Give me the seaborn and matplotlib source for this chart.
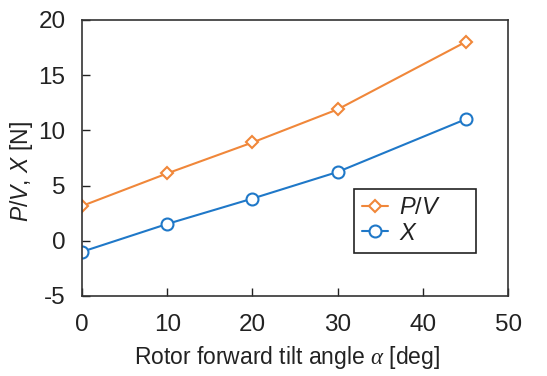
import matplotlib
matplotlib.use("Agg")
import matplotlib.pyplot as plt
from matplotlib.lines import Line2D
import seaborn as sns
import pandas as pd

# Rotor tilt angle [deg] and measured forces [N]
tilt_angle = [0, 10, 20, 30, 45]
p_over_v = [3.15, 6.1, 8.9, 11.9, 18.0]
x_force = [-1.0, 1.52, 3.82, 6.23, 11.0]
series_names = ["P/V", "X"]

sns.set_theme(style="ticks")
plt.rcParams["font.family"] = ["Liberation Sans", "DejaVu Sans"]
plt.rcParams["mathtext.fontset"] = "custom"
plt.rcParams["mathtext.rm"] = "Liberation Sans"
plt.rcParams["mathtext.it"] = "Liberation Sans:italic"
plt.rcParams["mathtext.cal"] = "Liberation Serif:italic"
plt.rcParams["axes.unicode_minus"] = False

df = pd.DataFrame({
    "angle": tilt_angle * 2,
    "value": p_over_v + x_force,
    "series": [series_names[0]] * len(tilt_angle) + [series_names[1]] * len(tilt_angle),
})

orange = "#F0873A"
blue = "#1F78C8"
text_c = "#222222"
msizes = {"P/V": 6.4, "X": 8.6}

fig = plt.figure(figsize=(5.47, 3.76), dpi=100)
ax = fig.add_axes([0.150, 0.213, 0.779, 0.734])

sns.lineplot(data=df, x="angle", y="value", hue="series", style="series",
             palette={"P/V": orange, "X": blue},
             markers={"P/V": "D", "X": "o"}, dashes=False,
             markeredgewidth=1.5, linewidth=1.5, ax=ax, legend=False)

# open markers with edge colours matching their line
for line, name, c in zip(ax.lines, series_names, [orange, blue]):
    line.set_markeredgecolor(c)
    line.set_markerfacecolor("white")
    line.set_markersize(msizes[name])

ax.set_xlim(0, 50)
ax.set_ylim(-5, 20)
ax.set_xticks([0, 10, 20, 30, 40, 50])
ax.set_yticks([-5, 0, 5, 10, 15, 20])
ax.tick_params(direction="in", length=6, width=1, labelsize=17.5, colors=text_c)
ax.tick_params(axis="y", pad=12)
ax.tick_params(axis="x", pad=13)
for sp in ax.spines.values():
    sp.set_color("#333333")
    sp.set_linewidth(1.2)

ax.set_xlabel(r"Rotor forward tilt angle $\mathcal{\alpha}$ [deg]", fontsize=16.5, color=text_c)
ax.set_ylabel(r"$\it{P}$/$\it{V}$, $\it{X}$ [N]", fontsize=16.5, color=text_c)
ax.xaxis.set_label_coords(0.48, -0.175)
ax.yaxis.set_label_coords(-0.11, 0.45)

handles = [
    Line2D([], [], color=orange, marker="D", markersize=msizes["P/V"], markerfacecolor="white",
           markeredgecolor=orange, markeredgewidth=1.5, linewidth=1.5),
    Line2D([], [], color=blue, marker="o", markersize=msizes["X"], markerfacecolor="white",
           markeredgecolor=blue, markeredgewidth=1.5, linewidth=1.5),
]
leg = ax.legend(handles, [r"$\it{P}$/$\it{V}$", r"$\it{X}$"], loc="lower left",
                bbox_to_anchor=(0.638, 0.156, 0.287, 0.224), mode="expand",
                fontsize=17, frameon=True, fancybox=False,
                handlelength=1.1, borderpad=0.35, labelspacing=0.15, handletextpad=0.45,
                borderaxespad=0)
leg.get_frame().set_edgecolor(text_c)
leg.get_frame().set_linewidth(1.2)
leg.get_frame().set_alpha(1)
for t in leg.get_texts():
    t.set_color(text_c)

fig.savefig("out.png", dpi=100)
